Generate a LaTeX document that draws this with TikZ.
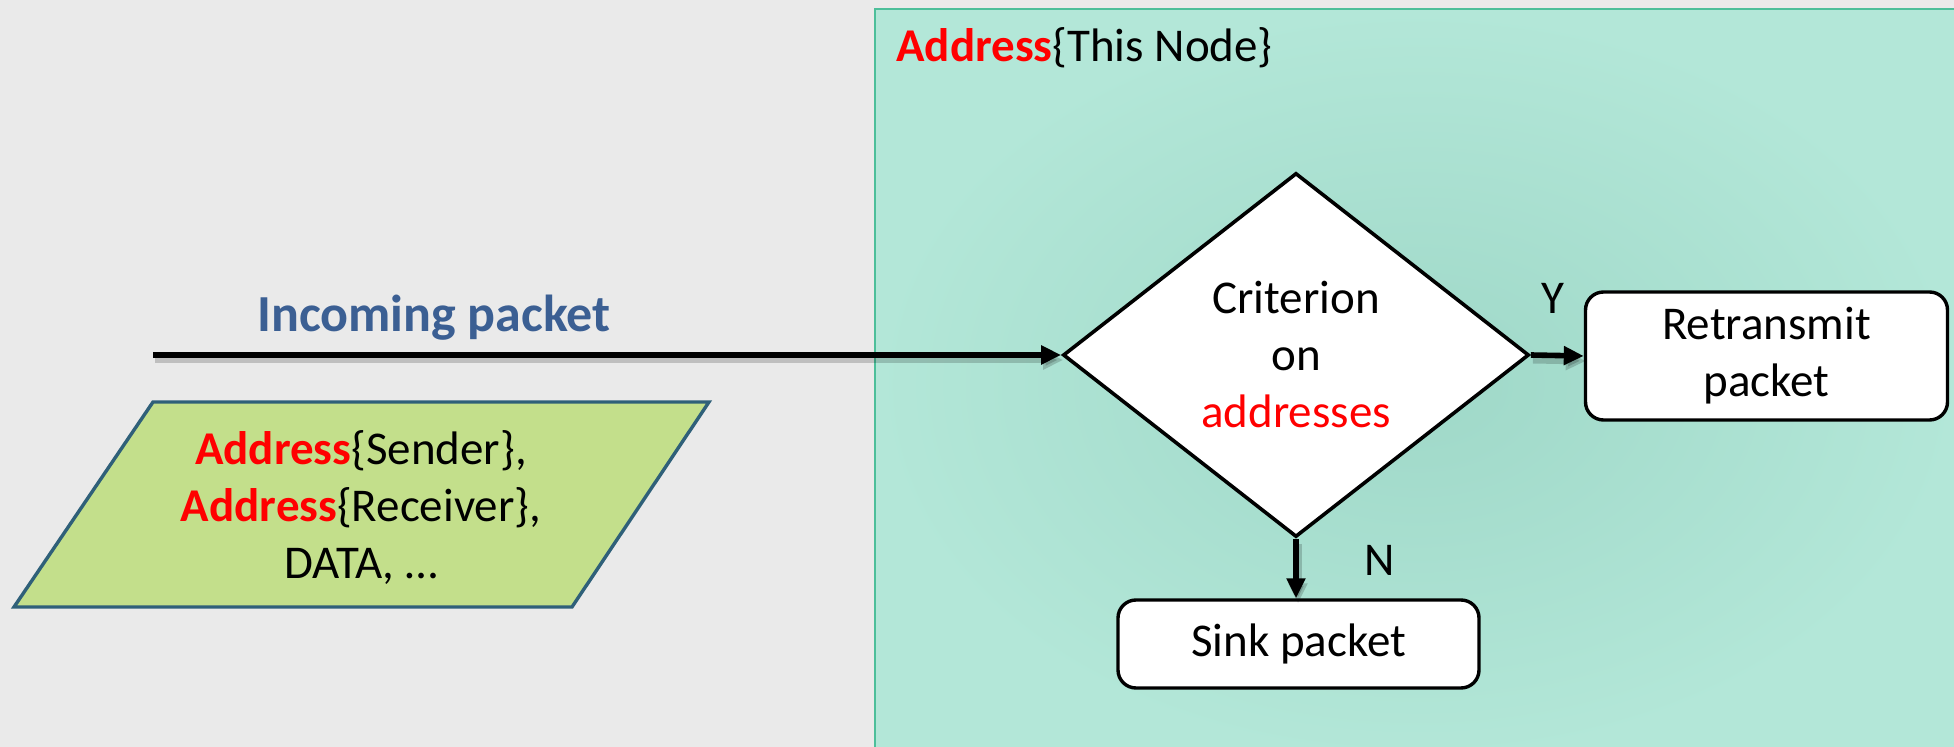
\documentclass[tikz,border=0pt]{standalone}
\usepackage{fontspec}
\setmainfont{Carlito}
\usetikzlibrary{shapes.geometric,arrows.meta}
\definecolor{bggray}{HTML}{EAEAEA}
\definecolor{tealin}{HTML}{9FD8C8}
\definecolor{tealout}{HTML}{B3E7D8}
\definecolor{tealborder}{HTML}{4DBF9A}
\definecolor{pktblue}{HTML}{3B5F93}
\definecolor{pktgreen}{HTML}{C3DF8B}
\definecolor{pktborder}{HTML}{2F6079}
\definecolor{addrred}{HTML}{FF0000}
\newcommand{\Addr}{\textcolor{addrred}{\textbf{Address}}}
\tikzset{
  bodyfont/.style={font=\fontsize{23.5}{28.5}\selectfont},
  flowarrow/.style={line width=2.8pt, -{Triangle[length=10pt,width=9pt]},
    preaction={draw=black, opacity=0.18, line width=3.5pt,
      transform canvas={xshift=1pt,yshift=-2.5pt}}},
  actionbox/.style={draw=black, line width=1.7pt, fill=white, rounded corners=9pt,
    align=center, bodyfont, inner sep=0pt},
  decision/.style={diamond, draw=black, line width=1.8pt, fill=white, inner sep=0pt,
    minimum width=233pt, minimum height=182pt, align=center, bodyfont},
  branchlabel/.style={bodyfont, inner sep=0pt, anchor=base}
}
\begin{document}
\begin{tikzpicture}[x=0.5pt,y=-0.5pt]
\useasboundingbox (0,0) rectangle (1954,747);
% background
\fill[bggray] (0,0) rectangle (1954,747);
% node zone
\shade[inner color=tealin, outer color=tealout] (875,9) rectangle (1960,760);
\draw[tealborder, line width=1.4pt] (1960,9) -- (875,9) -- (875,760);
\node[bodyfont, anchor=base west, inner sep=0pt] (zone) at (896,62) {\Addr\{This Node\}};
% incoming packet
\node[font=\fontsize{26}{31}\selectfont\bfseries, text=pktblue, anchor=base, inner sep=0pt]
  (inlabel) at (434,332) {Incoming packet};
\coordinate (start) at (153,355);
% packet contents
\draw[fill=pktgreen, draw=pktborder, line width=1.7pt]
  (153,402) -- (709,402) -- (572,607) -- (14,607) -- cycle;
\node[bodyfont, align=center, inner sep=0pt] (pkt) at (361,508)
  {\Addr\{Sender\},\\ \Addr\{Receiver\},\\ DATA, …};
% flowchart
\node[decision] (crit) at (1296,355) {Criterion\\on\\\textcolor{addrred}{addresses}};
\node[actionbox, minimum width=181pt, minimum height=64pt] (retx) at (1766.5,356) {Retransmit\\packet};
\node[actionbox, minimum width=180.5pt, minimum height=44pt] (sink) at (1298.5,644) {Sink packet};
\draw[flowarrow] (start) -- (crit.west);
\draw[flowarrow] (crit.east) -- (retx.west);
\draw[flowarrow] (crit.south) -- (crit.south |- sink.north);
\node[branchlabel] (ylab) at (1553,314) {Y};
\node[branchlabel] (nlab) at (1380,576) {N};
\end{tikzpicture}
\end{document}
